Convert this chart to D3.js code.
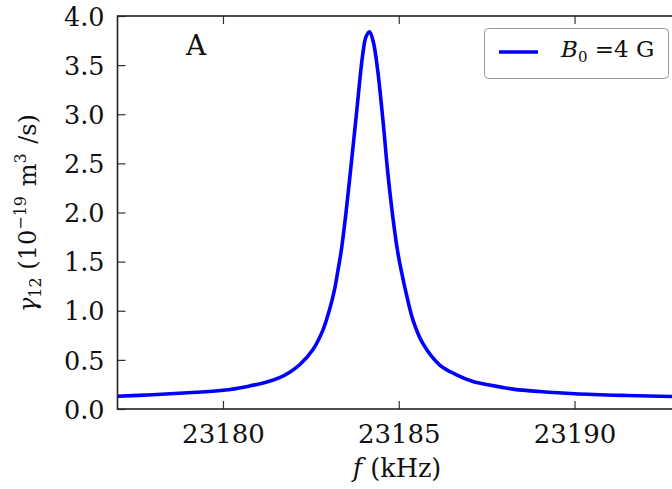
<!DOCTYPE html>
<html>
<head>
<meta charset="utf-8">
<script src="https://cdn.jsdelivr.net/npm/d3@7"></script>
<style>
  html, body { margin: 0; padding: 0; background: #fff; }
  svg { display: block; }
  text { font-family: "DejaVu Serif", serif; fill: #111; }
</style>
</head>
<body>
<svg id="chart" width="672" height="489"></svg>
<script>
// Resonance profile of the collision rate coefficient vs. frequency (B0 = 4 G)
const freq = [23177.0, 23178.0, 23179.0, 23180.0, 23180.7, 23181.2, 23181.61, 23181.9,
              23182.18, 23182.55, 23182.84, 23183.03, 23183.17, 23183.27, 23183.36,
              23183.50, 23183.65, 23183.79, 23183.98, 23184.07, 23184.17, 23184.28,
              23184.40, 23184.55, 23184.69, 23184.83, 23184.97, 23185.07, 23185.21,
              23185.40, 23185.68, 23186.16, 23186.63, 23187.11, 23187.58, 23188.3,
              23189.0, 23190.0, 23191.5, 23193.0];
const gamma = [0.13, 0.145, 0.165, 0.19, 0.23, 0.27, 0.32, 0.375,
               0.45, 0.60, 0.80, 1.01, 1.21, 1.41, 1.60,
               2.00, 2.50, 2.98, 3.62, 3.79, 3.84, 3.73,
               3.45, 2.94, 2.40, 1.96, 1.60, 1.41, 1.18,
               0.91, 0.67, 0.45, 0.35, 0.28, 0.244, 0.20,
               0.178, 0.155, 0.137, 0.125];
const xTicks = [23180, 23185, 23190];
const yTicks = [0.0, 0.5, 1.0, 1.5, 2.0, 2.5, 3.0, 3.5, 4.0];
const legendLabel = ["B", "0", " =4 G"];
const panelLabel = "A";

const svg = d3.select("#chart");
const plotL = 117.5, plotR = 680, plotT = 16, plotB = 409;

const x = d3.scaleLinear().domain([23177, 23193]).range([plotL, plotR]);
const y = d3.scaleLinear().domain([0, 4]).range([plotB, plotT]);

const data = freq.map((f, i) => ({ f, g: gamma[i] }));

// curve
svg.append("path")
  .datum(data)
  .attr("fill", "none")
  .attr("stroke", "#0000ff")
  .attr("stroke-width", 3.6)
  .attr("stroke-linejoin", "round")
  .attr("d", d3.line().x(d => x(d.f)).y(d => y(d.g)).curve(d3.curveCatmullRom.alpha(0.5)));

// axes with inward ticks
const tickLen = 8;
const gx = svg.append("g").attr("transform", `translate(0,${plotB})`)
  .call(d3.axisBottom(x).tickValues(xTicks).tickSizeInner(-tickLen).tickSizeOuter(0)
        .tickPadding(0).tickFormat(d3.format("d")));
gx.selectAll("text").attr("y", 34).attr("dy", null)
  .style("font-size", "26px");

const gxTop = svg.append("g").attr("transform", `translate(0,${plotT})`)
  .call(d3.axisTop(x).tickValues(xTicks).tickSizeInner(-tickLen).tickSizeOuter(0)
        .tickFormat(""));

const gy = svg.append("g").attr("transform", `translate(${plotL},0)`)
  .call(d3.axisLeft(y).tickValues(yTicks).tickSizeInner(-tickLen).tickSizeOuter(0)
        .tickPadding(0).tickFormat(d3.format(".1f")));
gy.selectAll("text").attr("x", -13).attr("dy", "0.36em")
  .style("font-size", "25.5px");

[gx, gxTop, gy].forEach(g => {
  g.select(".domain").remove();
  g.selectAll(".tick line").attr("stroke", "#333").attr("stroke-width", 1.2);
  g.selectAll("text").attr("fill", "#111").style("font-family", "DejaVu Serif");
});

// frame
svg.append("rect")
  .attr("x", plotL).attr("y", plotT)
  .attr("width", plotR - plotL).attr("height", plotB - plotT)
  .attr("fill", "none").attr("stroke", "#222").attr("stroke-width", 1.6);

// axis titles
const xl = svg.append("text")
  .attr("x", 397).attr("y", 477)
  .attr("text-anchor", "middle")
  .style("font-size", "25.5px");
xl.append("tspan").style("font-style", "italic").text("f");
xl.append("tspan").text(" (kHz)");

const yl = svg.append("text")
  .attr("transform", "translate(36,213) rotate(-90)")
  .attr("text-anchor", "middle")
  .style("font-size", "24px");
yl.append("tspan").style("font-style", "italic").text("γ");
yl.append("tspan").attr("dy", 5).style("font-size", "16px").text("12");
yl.append("tspan").attr("dy", -5).text(" (10");
yl.append("tspan").attr("dy", -10).style("font-size", "16px").text("−19");
yl.append("tspan").attr("dy", 10).attr("dx", 2).text(" m");
yl.append("tspan").attr("dy", -10).style("font-size", "16px").text("3");
yl.append("tspan").attr("dy", 10).attr("dx", 2).text(" /s)");

// panel label
svg.append("text")
  .attr("x", 186).attr("y", 55)
  .style("font-size", "28px")
  .text(panelLabel);

// legend
const lg = svg.append("g");
lg.append("rect")
  .attr("x", 484.5).attr("y", 28.5).attr("width", 184).attr("height", 50)
  .attr("rx", 4).attr("fill", "#fff").attr("stroke", "#999").attr("stroke-width", 1);
lg.append("line")
  .attr("x1", 499).attr("x2", 538).attr("y1", 52).attr("y2", 52)
  .attr("stroke", "#0000ff").attr("stroke-width", 3.6);
const lt = lg.append("text").attr("x", 561).attr("y", 57).style("font-size", "23px");
lt.append("tspan").style("font-style", "italic").text(legendLabel[0]);
lt.append("tspan").attr("dy", 5).style("font-size", "15px").text(legendLabel[1]);
lt.append("tspan").attr("dy", -5).text(legendLabel[2]);
</script>
</body>
</html>
